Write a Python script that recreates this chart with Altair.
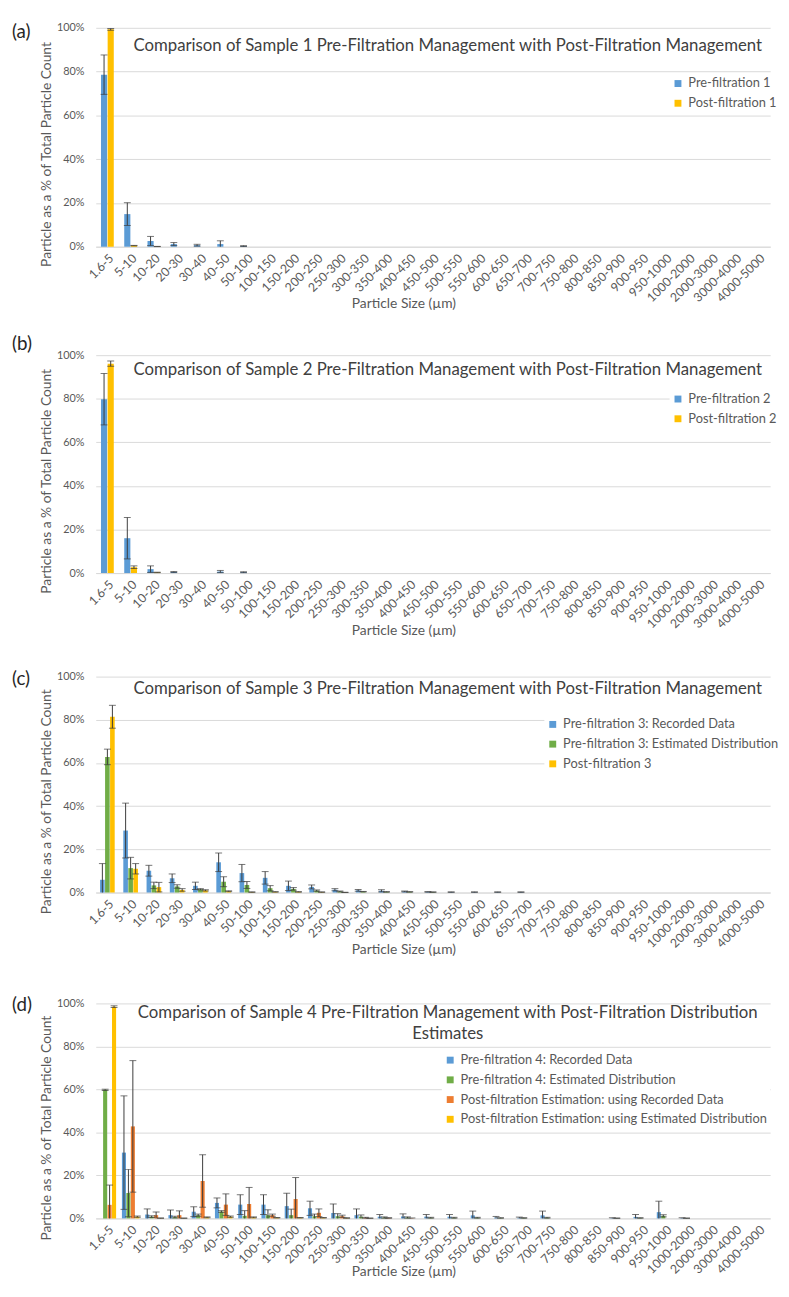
import altair as alt
import pandas as pd

categories = ["1.6-5", "5-10", "10-20", "20-30", "30-40", "40-50", "50-100", "100-150", "150-200",
              "200-250", "250-300", "300-350", "350-400", "400-450", "450-500", "500-550", "550-600",
              "600-650", "650-700", "700-750", "750-800", "800-850", "850-900", "900-950", "950-1000",
              "1000-2000", "2000-3000", "3000-4000", "4000-5000"]

def pad(vals):
    return vals + [0] * (len(categories) - len(vals))

# Panel (a)
pre1 = pad([78.6, 14.9, 2.6, 1.2, 0.7, 1.2, 0.3])
pre1_err = pad([9.0, 5.2, 2.1, 0.7, 0.4, 1.5, 0.2])
post1 = pad([99.3, 0.5, 0.1])
post1_err = pad([0.4, 0.1, 0.05])

# Panel (b)
pre2 = pad([79.8, 16.0, 1.8, 0.5, 0, 0.7, 0.4])
pre2_err = pad([11.8, 9.5, 1.5, 0.2, 0, 0.5, 0.2])
post2 = pad([96.1, 2.7, 0.3])
post2_err = pad([1.2, 0.6, 0.1])

# Panel (c)
pre3_rec = pad([5.9, 28.7, 10.1, 6.6, 3.1, 14.0, 9.0, 6.8, 3.1, 2.6, 1.3, 1.0, 0.8, 0.5, 0.3, 0.2, 0.2, 0.2, 0.2])
pre3_rec_err = pad([7.5, 12.7, 2.5, 2.0, 1.7, 4.3, 4.0, 2.9, 2.2, 0.9, 0.5, 0.4, 0.5, 0.2, 0.1, 0.1, 0.1, 0.1, 0.1])
pre3_est = pad([62.8, 11.3, 3.3, 2.8, 1.5, 5.0, 3.5, 2.0, 1.7, 0.9, 0.5, 0.4, 0.3, 0.3, 0.2])
pre3_est_err = pad([3.6, 5.0, 1.5, 0.8, 0.3, 2.3, 1.6, 1.2, 0.6, 0.3, 0.2, 0.1, 0.1, 0.1, 0.1])
post3 = pad([81.4, 11.0, 2.5, 1.2, 1.0, 0.6, 0.2, 0.3, 0.3, 0.2, 0.1])
post3_err = pad([5.3, 2.4, 2.2, 0.6, 0.3, 0.2, 0.1, 0.1, 0.1, 0.1, 0.05])

# Panel (d)
pre4_rec = [0, 30.6, 1.8, 1.5, 3.1, 7.2, 6.4, 6.4, 5.7, 4.7, 2.5, 1.5, 0.8, 0.9, 0.8, 0.8, 1.4, 0.4, 0.3,
            1.4, 0, 0, 0.15, 0.7, 2.9, 0.15, 0, 0, 0]
pre4_rec_err = [0, 26.4, 2.6, 2.4, 2.3, 2.3, 4.6, 4.6, 6.0, 3.3, 4.2, 2.9, 1.0, 1.2, 1.0, 1.0, 2.0, 0.5, 0.3,
                2.0, 0, 0, 0.15, 1.1, 5.1, 0.15, 0, 0, 0]
pre4_est = [59.8, 11.8, 0.8, 0.6, 1.5, 3.2, 1.2, 1.5, 1.5, 1.0, 1.0, 0.8, 0.4, 0.4, 0.3, 0.3, 0.3, 0.2, 0.2,
            0.3, 0, 0, 0.1, 0.2, 1.2, 0.1, 0, 0, 0]
pre4_est_err = [0.3, 11.0, 0.4, 0.4, 0.5, 0.4, 2.4, 2.5, 2.8, 1.0, 1.2, 0.8, 0.3, 0.3, 0.2, 0.2, 0.2, 0.1, 0.1,
                0.2, 0, 0, 0.05, 0.1, 0.5, 0.05, 0, 0, 0]
post4_rec = pad([6.3, 42.8, 1.5, 1.5, 17.4, 6.4, 6.7, 1.5, 9.0, 2.6, 1.0, 0.3, 0.2, 0.1])
post4_rec_err = pad([9.2, 30.6, 1.5, 2.0, 12.2, 5.0, 7.7, 0.5, 10.0, 1.8, 0.5, 0.2, 0.1, 0.1])
post4_est = pad([98.5, 0.8, 0.1, 0.1, 0.5, 0.8, 0.5, 0.3, 0.3, 0.3, 0.2, 0.1])
post4_est_err = pad([0.4, 0.3, 0.05, 0.05, 0.2, 0.3, 0.2, 0.1, 0.1, 0.1, 0.1, 0.05])

BLUE, GREEN, ORANGE, YELLOW = "#5B9BD5", "#70AD47", "#ED7D31", "#FFC000"

panels = [
    dict(tag="(a)",
         title="Comparison of Sample 1 Pre-Filtration Management with Post-Filtration Management",
         series=[("Pre-filtration 1", pre1, pre1_err, BLUE),
                 ("Post-filtration 1", post1, post1_err, YELLOW)],
         h=222, pi=0.45, tagy=4, titley=19, lx=582, ly=48, top=11, bottom=70, xty=58),
    dict(tag="(b)",
         title="Comparison of Sample 2 Pre-Filtration Management with Post-Filtration Management",
         series=[("Pre-filtration 2", pre2, pre2_err, BLUE),
                 ("Post-filtration 2", post2, post2_err, YELLOW)],
         h=221, pi=0.45, tagy=-11, titley=15, lx=582, ly=36, top=24, bottom=70, xty=58),
    dict(tag="(c)",
         title="Comparison of Sample 3 Pre-Filtration Management with Post-Filtration Management",
         series=[("Pre-filtration 3: Recorded Data", pre3_rec, pre3_rec_err, BLUE),
                 ("Pre-filtration 3: Estimated Distribution", pre3_est, pre3_est_err, GREEN),
                 ("Post-filtration 3", post3, post3_err, YELLOW)],
         h=219, pi=0.37, tagy=3, titley=13, lx=455, ly=40, top=14, bottom=70, xty=58),
    dict(tag="(d)",
         title="Comparison of Sample 4 Pre-Filtration Management with Post-Filtration Distribution\nEstimates",
         series=[("Pre-filtration 4: Recorded Data", pre4_rec, pre4_rec_err, BLUE),
                 ("Pre-filtration 4: Estimated Distribution", pre4_est, pre4_est_err, GREEN),
                 ("Post-filtration Estimation: using Recorded Data", post4_rec, post4_rec_err, ORANGE),
                 ("Post-filtration Estimation: using Estimated Distribution", post4_est, post4_est_err, YELLOW)],
         h=218, pi=0.25, tagy=2, titley=10, lx=351, ly=49, top=14, bottom=40, xty=54),
]

W = 684
FONT = "Lato"
TXT = "#595959"
ERRC = "#3c3c3c"


def make_panel(p):
    rows = []
    for name, vals, errs, _ in p["series"]:
        for c, v, e in zip(categories, vals, errs):
            rows.append(dict(size=c, series=name, value=v / 100.0, err=e / 100.0,
                             lo=max(0.0, v - e) / 100.0, hi=(v + e) / 100.0,
                             haslo=1 if (v - e) > 0 else 0))
    df = pd.DataFrame(rows)
    names = [s[0] for s in p["series"]]
    colors = [s[3] for s in p["series"]]
    h = p["h"]

    xaxis = alt.Axis(labelAngle=-45, labelFontSize=12.5, labelColor=TXT, labelPadding=5,
                     labelOverlap=False, ticks=False, domainColor="#d9d9d9",
                     title="Particle Size (µm)", titleFontSize=14, titleColor=TXT,
                     titleFontWeight="normal", titleX=312, titleY=p["xty"], titleBaseline="middle")
    yaxis = alt.Axis(format=".0%", values=[0, 0.2, 0.4, 0.6, 0.8, 1.0], labelFontSize=11,
                     labelColor=TXT, labelPadding=12, ticks=False, domain=False,
                     gridColor="#d9d9d9", title="Particle as a % of Total Particle Count",
                     titleFontSize=14, titleColor=TXT, titleFontWeight="normal",
                     titleX=-50, titleY=h / 2 + 17, titleBaseline="middle", titleAngle=-90)
    xs = alt.Scale(paddingInner=p["pi"], paddingOuter=p["pi"] / 2)
    ys = alt.Scale(domain=[0, 1], nice=False)
    X = alt.X("size:N", sort=categories, scale=xs, axis=xaxis)
    XO = alt.XOffset("series:N", sort=names, scale=alt.Scale(paddingInner=0.08))

    base = alt.Chart(df)
    bars = base.mark_bar().encode(
        x=X, xOffset=XO,
        y=alt.Y("value:Q", scale=ys, axis=yaxis),
        color=alt.Color("series:N", sort=names, scale=alt.Scale(domain=names, range=colors),
                        legend=alt.Legend(orient="none", legendX=p["lx"], legendY=p["ly"], title=None,
                                          fillColor="white", padding=2, labelFontSize=13,
                                          labelColor=TXT, symbolType="square", symbolSize=49,
                                          rowPadding=6, labelOffset=4, labelLimit=400)),
    )
    ebase = base.transform_filter("datum.err > 0")
    rule = ebase.mark_rule(color=ERRC, strokeWidth=1).encode(
        x=X, xOffset=XO, y=alt.Y("lo:Q", scale=ys, axis=yaxis), y2="hi:Q")
    cap_hi = ebase.mark_tick(color=ERRC, thickness=1, size=7).encode(
        x=X, xOffset=XO, y=alt.Y("hi:Q", scale=ys, axis=yaxis))
    cap_lo = ebase.transform_filter("datum.haslo == 1").mark_tick(color=ERRC, thickness=1, size=7).encode(
        x=X, xOffset=XO, y=alt.Y("lo:Q", scale=ys, axis=yaxis))

    title_txt = alt.Chart(pd.DataFrame({"t": [p["title"]]})).mark_text(
        font=FONT, fontSize=17, color="#404040", align="center", baseline="middle",
        lineBreak="\n", lineHeight=21).encode(
        x=alt.value(357), y=alt.value(p["titley"]), text="t:N")
    tag_txt = alt.Chart(pd.DataFrame({"t": [p["tag"]]})).mark_text(
        font=FONT, fontSize=19, color="#262626", align="left", baseline="middle").encode(
        x=alt.value(-85), y=alt.value(p["tagy"]), text="t:N")
    # invisible layout guide fixing the vertical extent of each panel
    guide = alt.Chart(pd.DataFrame({"g": [0]})).mark_rule(strokeOpacity=0).encode(
        x=alt.value(0), y=alt.value(-p["top"]), y2=alt.value(h + p["bottom"]))

    return alt.layer(bars, rule, cap_hi, cap_lo, title_txt, tag_txt, guide).properties(width=W, height=h)


charts = [make_panel(p) for p in panels]

RES = dict(color="independent", x="independent", y="independent", xOffset="independent")

ab = alt.vconcat(charts[0], charts[1], spacing=16).resolve_scale(**RES)
abc = alt.vconcat(ab, charts[2], spacing=21).resolve_scale(**RES)
chart = alt.vconcat(abc, charts[3], spacing=28.5).resolve_scale(**RES).properties(
    padding={"left": 4, "top": 0, "right": 0, "bottom": 0}
).configure(font=FONT).configure_view(stroke=None)

chart.save("out.html", embed_options={"renderer": "svg", "actions": False})
